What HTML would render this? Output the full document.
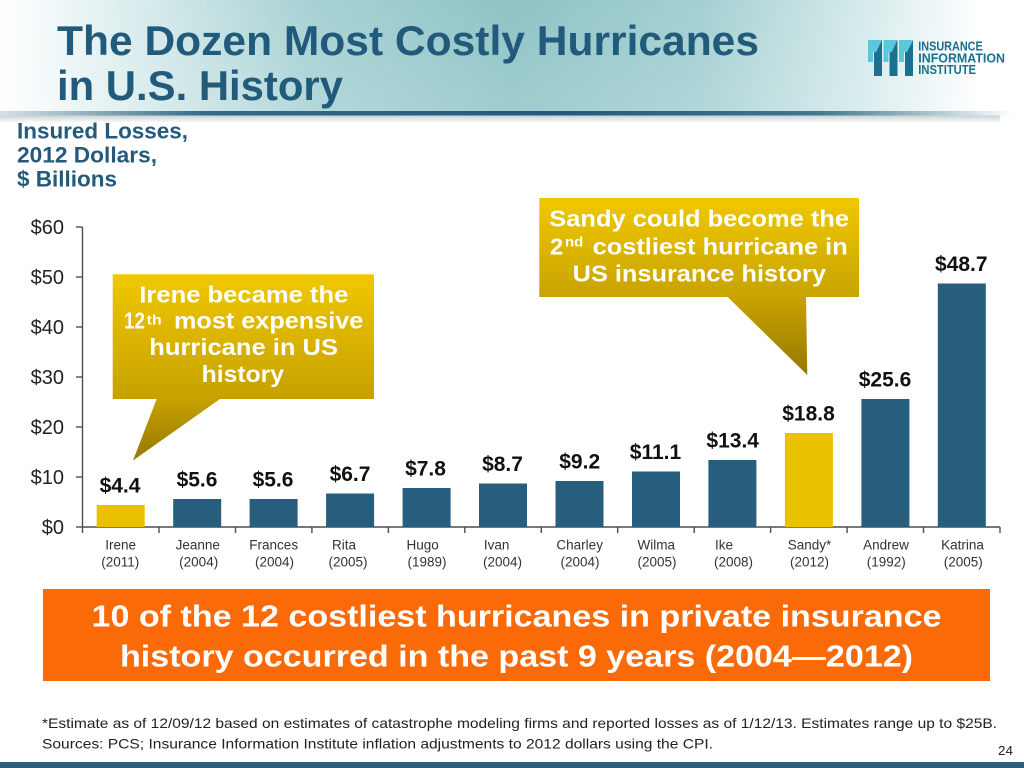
<!DOCTYPE html>
<html><head><meta charset="utf-8"><style>
html,body{margin:0;padding:0;background:#fff;}
svg{display:block;}
text{font-family:"Liberation Sans",Arial,sans-serif;}
</style></head><body>
<svg width="1024" height="768" viewBox="0 0 1024 768" xmlns="http://www.w3.org/2000/svg">
<defs>
<linearGradient id="hdr" x1="0" y1="0" x2="1024" y2="0" gradientUnits="userSpaceOnUse">
<stop offset="0" stop-color="#ffffff"/>
<stop offset="0.1" stop-color="#e3f1f2"/>
<stop offset="0.3" stop-color="#a8d2d4"/>
<stop offset="0.5" stop-color="#8fc3c6"/>
<stop offset="0.68" stop-color="#a3cfd1"/>
<stop offset="0.84" stop-color="#d4eaeb"/>
<stop offset="0.96" stop-color="#ffffff"/>
</linearGradient>
<linearGradient id="hdrv" x1="0" y1="0" x2="0" y2="112" gradientUnits="userSpaceOnUse">
<stop offset="0" stop-color="#ffffff" stop-opacity="0"/>
<stop offset="1" stop-color="#ffffff" stop-opacity="0.15"/>
</linearGradient>
<linearGradient id="line" x1="0" y1="0" x2="1024" y2="0" gradientUnits="userSpaceOnUse">
<stop offset="0" stop-color="#d6e2e6"/>
<stop offset="0.2" stop-color="#336a87"/>
<stop offset="0.55" stop-color="#235a7a"/>
<stop offset="0.8" stop-color="#3f7890"/>
<stop offset="0.92" stop-color="#b5ccd4"/>
<stop offset="0.99" stop-color="#ffffff"/>
</linearGradient>
<linearGradient id="shadow" x1="0" y1="115" x2="0" y2="123" gradientUnits="userSpaceOnUse">
<stop offset="0" stop-color="#b9c2c4"/>
<stop offset="1" stop-color="#ffffff"/>
</linearGradient>
<linearGradient id="g1" x1="0" y1="274" x2="0" y2="461" gradientUnits="userSpaceOnUse">
<stop offset="0" stop-color="#f0c800"/>
<stop offset="0.67" stop-color="#c6a100"/>
<stop offset="1" stop-color="#957800"/>
</linearGradient>
<linearGradient id="g2" x1="0" y1="198" x2="0" y2="375" gradientUnits="userSpaceOnUse">
<stop offset="0" stop-color="#f0c800"/>
<stop offset="0.56" stop-color="#c8a300"/>
<stop offset="1" stop-color="#957800"/>
</linearGradient>
</defs>

<!-- header -->
<rect x="0" y="0" width="1024" height="112" fill="url(#hdr)"/>
<rect x="0" y="0" width="1024" height="112" fill="url(#hdrv)"/>
<rect x="0" y="111" width="1024" height="4.5" fill="url(#line)"/>
<rect x="0" y="115.5" width="1000" height="7" fill="url(#shadow)" opacity="0.8"/>

<text x="57" y="55" font-size="42" font-weight="bold" fill="#215a7b" textLength="702" lengthAdjust="spacingAndGlyphs">The Dozen Most Costly Hurricanes</text>
<text x="57" y="100" font-size="42" font-weight="bold" fill="#215a7b" textLength="286" lengthAdjust="spacingAndGlyphs">in U.S. History</text>

<!-- logo -->
<g>
<polygon points="868,40 882,40 876,52 868,52" fill="#5cc6dc"/>
<polygon points="882,40 882,76 874,76 874,52 876,52" fill="#1a7190"/>
<polygon points="883.5,40 897.5,40 891.5,52 883.5,52" fill="#5cc6dc"/>
<polygon points="897.5,40 897.5,76 889.5,76 889.5,52 891.5,52" fill="#1a7190"/>
<polygon points="899,40 913,40 907,52 899,52" fill="#5cc6dc"/>
<polygon points="913,40 913,76 905,76 905,52 907,52" fill="#1a7190"/>
<rect x="868" y="52" width="5" height="10" fill="#5cc6dc"/>
<rect x="883.5" y="52" width="5" height="10" fill="#5cc6dc"/>
<rect x="899" y="52" width="5" height="10" fill="#5cc6dc"/>
</g>
<text x="918.3" y="50.7" font-size="12.5" font-weight="bold" fill="#1a6f8f" textLength="64.4" lengthAdjust="spacingAndGlyphs">INSURANCE</text>
<text x="918.3" y="62.3" font-size="12.5" font-weight="bold" fill="#1a6f8f" textLength="86.7" lengthAdjust="spacingAndGlyphs">INFORMATION</text>
<text x="918.3" y="74" font-size="12.5" font-weight="bold" fill="#1a6f8f" textLength="57.7" lengthAdjust="spacingAndGlyphs">INSTITUTE</text>

<!-- subtitle -->
<text x="17" y="138.3" font-size="22" font-weight="bold" fill="#24597b" textLength="171" lengthAdjust="spacingAndGlyphs">Insured Losses,</text>
<text x="17" y="162.3" font-size="22" font-weight="bold" fill="#24597b" textLength="140" lengthAdjust="spacingAndGlyphs">2012 Dollars,</text>
<text x="17" y="186.7" font-size="22" font-weight="bold" fill="#24597b" textLength="100" lengthAdjust="spacingAndGlyphs">$ Billions</text>

<!-- axes -->
<g stroke="#4d4d4d" stroke-width="1.4" fill="none">
<line x1="82.5" y1="227" x2="82.5" y2="527"/>
<line x1="82.5" y1="527" x2="1000" y2="527"/>
<line x1="76" y1="227" x2="82.5" y2="227"/>
<line x1="76" y1="277" x2="82.5" y2="277"/>
<line x1="76" y1="327" x2="82.5" y2="327"/>
<line x1="76" y1="377" x2="82.5" y2="377"/>
<line x1="76" y1="427" x2="82.5" y2="427"/>
<line x1="76" y1="477" x2="82.5" y2="477"/>
<line x1="76" y1="527" x2="82.5" y2="527"/>
<line x1="82.5" y1="527" x2="82.5" y2="533"/>
<line x1="159" y1="527" x2="159" y2="533"/>
<line x1="235.5" y1="527" x2="235.5" y2="533"/>
<line x1="311.9" y1="527" x2="311.9" y2="533"/>
<line x1="388.4" y1="527" x2="388.4" y2="533"/>
<line x1="464.8" y1="527" x2="464.8" y2="533"/>
<line x1="541.3" y1="527" x2="541.3" y2="533"/>
<line x1="617.7" y1="527" x2="617.7" y2="533"/>
<line x1="694.2" y1="527" x2="694.2" y2="533"/>
<line x1="770.6" y1="527" x2="770.6" y2="533"/>
<line x1="847.1" y1="527" x2="847.1" y2="533"/>
<line x1="923.5" y1="527" x2="923.5" y2="533"/>
<line x1="1000" y1="527" x2="1000" y2="533"/>
</g>
<g font-size="20" fill="#222" text-anchor="end">
<text x="64" y="234">$60</text>
<text x="64" y="284">$50</text>
<text x="64" y="334">$40</text>
<text x="64" y="384">$30</text>
<text x="64" y="434">$20</text>
<text x="64" y="484">$10</text>
<text x="64" y="534">$0</text>
</g>

<!-- bars -->
<rect x="96.7" y="505" width="48" height="22" fill="#ebc000"/>
<rect x="173.2" y="499" width="48" height="28" fill="#275d7d"/>
<rect x="249.6" y="499" width="48" height="28" fill="#275d7d"/>
<rect x="326.1" y="493.5" width="48" height="33.5" fill="#275d7d"/>
<rect x="402.6" y="488" width="48" height="39" fill="#275d7d"/>
<rect x="479" y="483.5" width="48" height="43.5" fill="#275d7d"/>
<rect x="555.5" y="481" width="48" height="46" fill="#275d7d"/>
<rect x="632" y="471.5" width="48" height="55.5" fill="#275d7d"/>
<rect x="708.4" y="460" width="48" height="67" fill="#275d7d"/>
<rect x="784.9" y="433" width="48" height="94" fill="#ebc200"/>
<rect x="861.4" y="399" width="48" height="128" fill="#275d7d"/>
<rect x="937.8" y="283.5" width="48" height="243.5" fill="#275d7d"/>

<!-- value labels -->
<g font-size="21" font-weight="bold" fill="#111" text-anchor="middle">
<text x="120" y="492.5">$4.4</text>
<text x="197" y="486.5">$5.6</text>
<text x="273" y="486.5">$5.6</text>
<text x="350" y="481">$6.7</text>
<text x="425.5" y="475.5">$7.8</text>
<text x="502.5" y="471">$8.7</text>
<text x="579.7" y="468.5">$9.2</text>
<text x="655.5" y="459">$11.1</text>
<text x="732.7" y="447.5">$13.4</text>
<text x="808.5" y="420.5">$18.8</text>
<text x="885" y="386.5">$25.6</text>
<text x="961.3" y="271">$48.7</text>
</g>

<!-- category labels -->
<g font-size="13.5" fill="#333" text-anchor="middle">
<text x="120.7" y="549.5">Irene</text><text x="120.3" y="566.5">(2011)</text>
<text x="197.8" y="549.5">Jeanne</text><text x="198.7" y="566.5">(2004)</text>
<text x="273.7" y="549.5">Frances</text><text x="274.5" y="566.5">(2004)</text>
<text x="344" y="549.5">Rita</text><text x="348" y="566.5">(2005)</text>
<text x="422.7" y="549.5">Hugo</text><text x="427" y="566.5">(1989)</text>
<text x="496.7" y="549.5">Ivan</text><text x="502.5" y="566.5">(2004)</text>
<text x="579.7" y="549.5">Charley</text><text x="580" y="566.5">(2004)</text>
<text x="656.3" y="549.5">Wilma</text><text x="657" y="566.5">(2005)</text>
<text x="724" y="549.5">Ike</text><text x="733.5" y="566.5">(2008)</text>
<text x="809.5" y="549.5">Sandy*</text><text x="809.5" y="566.5">(2012)</text>
<text x="886" y="549.5">Andrew</text><text x="886.3" y="566.5">(1992)</text>
<text x="962.5" y="549.5">Katrina</text><text x="963.3" y="566.5">(2005)</text>
</g>

<!-- Irene callout -->
<path d="M112.7,274.3 H374 V399 H220 L133,460.5 L156.7,399 H112.7 Z" fill="url(#g1)"/>
<g font-size="23" font-weight="bold" fill="#fff">
<text x="139.3" y="302.7" textLength="209" lengthAdjust="spacingAndGlyphs">Irene became the</text>
<text x="124" y="328.3" textLength="21" lengthAdjust="spacingAndGlyphs">12</text>
<text x="146.7" y="324.5" font-size="14" textLength="15" lengthAdjust="spacingAndGlyphs">th</text>
<text x="174" y="328.3" textLength="189.3" lengthAdjust="spacingAndGlyphs">most expensive</text>
<text x="149.3" y="355" textLength="188.7" lengthAdjust="spacingAndGlyphs">hurricane in US</text>
<text x="201.7" y="382" textLength="82.3" lengthAdjust="spacingAndGlyphs">history</text>
</g>

<!-- Sandy callout -->
<path d="M539.3,198 H859 V297 H806 L807.3,375 L727.7,297 H539.3 Z" fill="url(#g2)"/>
<g font-size="23" font-weight="bold" fill="#fff">
<text x="549.3" y="226.7" textLength="299.7" lengthAdjust="spacingAndGlyphs">Sandy could become the</text>
<text x="550" y="254.3" textLength="13.3" lengthAdjust="spacingAndGlyphs">2</text>
<text x="565" y="246.7" font-size="14" textLength="18.3" lengthAdjust="spacingAndGlyphs">nd</text>
<text x="592.7" y="254.3" textLength="255" lengthAdjust="spacingAndGlyphs">costliest hurricane in</text>
<text x="572.7" y="281.7" textLength="253.3" lengthAdjust="spacingAndGlyphs">US insurance history</text>
</g>

<!-- orange box -->
<rect x="43" y="589" width="947" height="92" fill="#fb6a08"/>
<text x="91.5" y="626.7" font-size="31" font-weight="bold" fill="#fff" textLength="850" lengthAdjust="spacingAndGlyphs">10 of the 12 costliest hurricanes in private insurance</text>
<text x="120" y="666.7" font-size="31" font-weight="bold" fill="#fff" textLength="793" lengthAdjust="spacingAndGlyphs">history occurred in the past 9 years (2004—2012)</text>

<!-- footnotes -->
<text x="42" y="728" font-size="14" fill="#222" textLength="955" lengthAdjust="spacingAndGlyphs">*Estimate as of 12/09/12 based on estimates of catastrophe modeling firms and reported losses as of 1/12/13. Estimates range up to $25B.</text>
<text x="42" y="748.3" font-size="14" fill="#222" textLength="671" lengthAdjust="spacingAndGlyphs">Sources: PCS; Insurance Information Institute inflation adjustments to 2012 dollars using the CPI.</text>
<text x="998" y="755" font-size="13" fill="#222" textLength="15" lengthAdjust="spacingAndGlyphs">24</text>

<rect x="0" y="762" width="1024" height="6" fill="#2a5e7e"/>
</svg>
</body></html>
